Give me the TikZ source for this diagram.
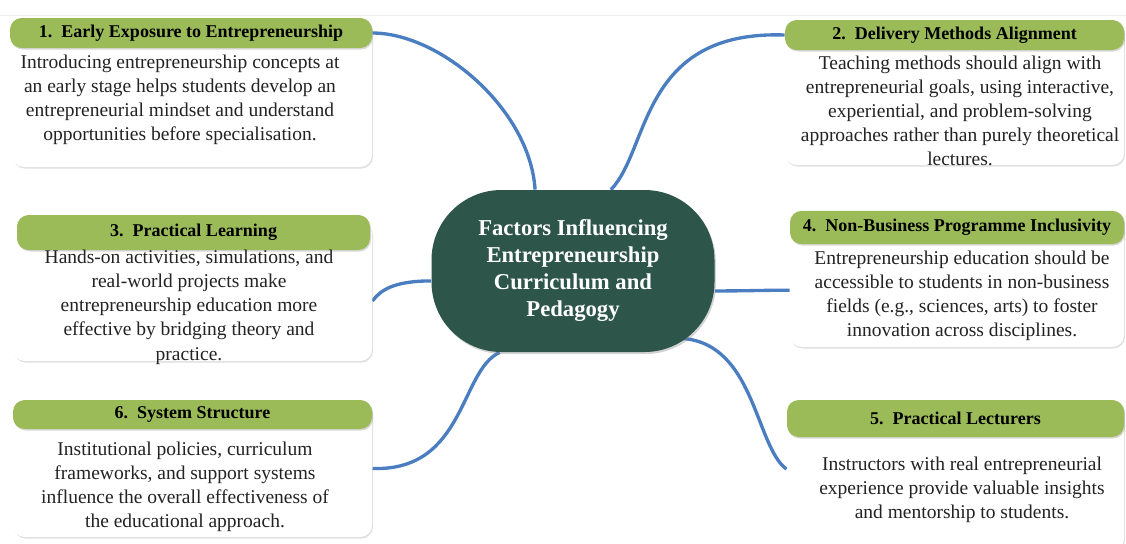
\documentclass[tikz,border=0pt]{standalone}
\usepackage{fontspec}
\setmainfont{Liberation Serif}
\usetikzlibrary{scopes}
\usetikzlibrary{shadows}
\usetikzlibrary{backgrounds}

\begin{document}
\begin{tikzpicture}[x=0.6pt,y=-0.6pt,
	headbox/.style={fill=hgreen,draw=none,rounded corners=7pt,inner sep=0pt,
		font=\fontsize{10.8}{13}\selectfont\bfseries,
		drop shadow={shadow xshift=0.6pt,shadow yshift=-0.9pt,opacity=0.3}},
	bodybox/.style={fill=white,rounded corners=7pt,line width=0.6pt,
		drop shadow={shadow xshift=0.6pt,shadow yshift=-0.9pt,opacity=0.25}},
	bodytext/.style={align=center,inner sep=0pt,text=txt,
		font=\fontsize{11.7}{14.5}\selectfont},
	link/.style={draw=lblue,line width=2pt}]

\definecolor{hgreen}{RGB}{155,187,89};
\definecolor{cgreen}{RGB}{45,85,73};
\definecolor{lblue}{RGB}{74,126,193};
\definecolor{lgray}{RGB}{205,205,205};
\definecolor{txt}{RGB}{35,35,35};

\useasboundingbox (0,0) rectangle (1126,543);
\clip (0,0) rectangle (1126,543);

\draw [draw=black!6,line width=0.4pt] (0,15) -- (1126,15);

%centre
\node [fill=cgreen,rounded corners=42pt,minimum width=169.8pt,minimum height=97.2pt,
	inner sep=0pt,align=center,text=white,font=\fontsize{13.6}{16.2}\selectfont\bfseries,
	drop shadow={shadow xshift=0.8pt,shadow yshift=-1.2pt,opacity=0.35}]
	(core) at (573,271) {Factors Influencing\\Entrepreneurship\\Curriculum and\\Pedagogy};

%left column
{[draw=lgray]
	\node [bodybox,minimum width=216pt,minimum height=89.4pt] (b1) at (192,92.5) {};
	\node [bodybox,minimum width=215.4pt,minimum height=83.4pt] (b3) at (192.5,291.5) {};
	\node [bodybox,minimum width=215.4pt,minimum height=82.2pt] (b6) at (192.5,468.5) {};
}

\node [headbox,minimum width=217.2pt,minimum height=18pt] (h1) at (191,33) {1.\ \ Early Exposure to Entrepreneurship};
\node [headbox,minimum width=211.8pt,minimum height=21pt] (h3) at (193.5,232.5) {3.\ \ Practical Learning};
\node [headbox,minimum width=215.4pt,minimum height=17.4pt] (h6) at (192.5,414.5) {6.\ \ System Structure};

%right column
{[draw=hgreen]
	\node [bodybox,minimum width=203.4pt,minimum height=87pt] (b2) at (954.5,92.5) {};
	\node [bodybox,minimum width=200.4pt,minimum height=82.2pt] (b4) at (957,278.5) {};
	\node [bodybox,minimum width=202.2pt,minimum height=90pt] (b5) at (955.5,475) {};
}

\node [headbox,minimum width=203.4pt,minimum height=18pt] (h2) at (954.5,35) {2.\ \ Delivery Methods Alignment};
\node [headbox,minimum width=200.4pt,minimum height=20pt] (h4) at (957,227.5) {4.\ \ Non-Business Programme Inclusivity};
\node [headbox,minimum width=202.2pt,minimum height=22.2pt] (h5) at (955.5,418.5) {5.\ \ Practical Lecturers};

%texts
\node [bodytext] (t1) at (180,100) {Introducing entrepreneurship concepts at\\
	an early stage helps students develop an\\
	entrepreneurial mindset and understand\\
	opportunities before specialisation.};
\node [bodytext] (t2) at (960,111) {Teaching methods should align with\\
	entrepreneurial goals, using interactive,\\
	experiential, and problem-solving\\
	approaches rather than purely theoretical\\
	lectures.};
\node [bodytext] (t3) at (189,307) {Hands-on activities, simulations, and\\
	real-world projects make\\
	entrepreneurship education more\\
	effective by bridging theory and\\
	practice.};
\node [bodytext] (t4) at (962,296) {Entrepreneurship education should be\\
	accessible to students in non-business\\
	fields (e.g., sciences, arts) to foster\\
	innovation across disciplines.};
\node [bodytext] (t5) at (962,490) {Instructors with real entrepreneurial\\
	experience provide valuable insights\\
	and mentorship to students.};
\node [bodytext] (t6) at (185,487) {Institutional policies, curriculum\\
	frameworks, and support systems\\
	influence the overall effectiveness of\\
	the educational approach.};

%links to the centre
\begin{pgfonlayer}{background}
	\draw [link] (h1.east) .. controls +(68,0) and +(-5,-80) .. (core.115);
	\draw [link] (h2.west) .. controls +(-145,-5) and +(39,-40) .. (core.65);
	\draw [link] (b3.-3) .. controls +(8,-11) and +(-37,0) .. (core.184);
	\draw [link] (core.-8) .. controls +(35,0) and +(-30,0) .. (b4.184);
	\draw [link] ([shift={(-40,-14)}]core.south east) .. controls +(80,-2) and +(-32,-23) .. (b5.178);
	\draw [link] (b6.east) .. controls +(93,3) and +(-40,18) .. (core.228);
\end{pgfonlayer}

\end{tikzpicture}
\end{document}
